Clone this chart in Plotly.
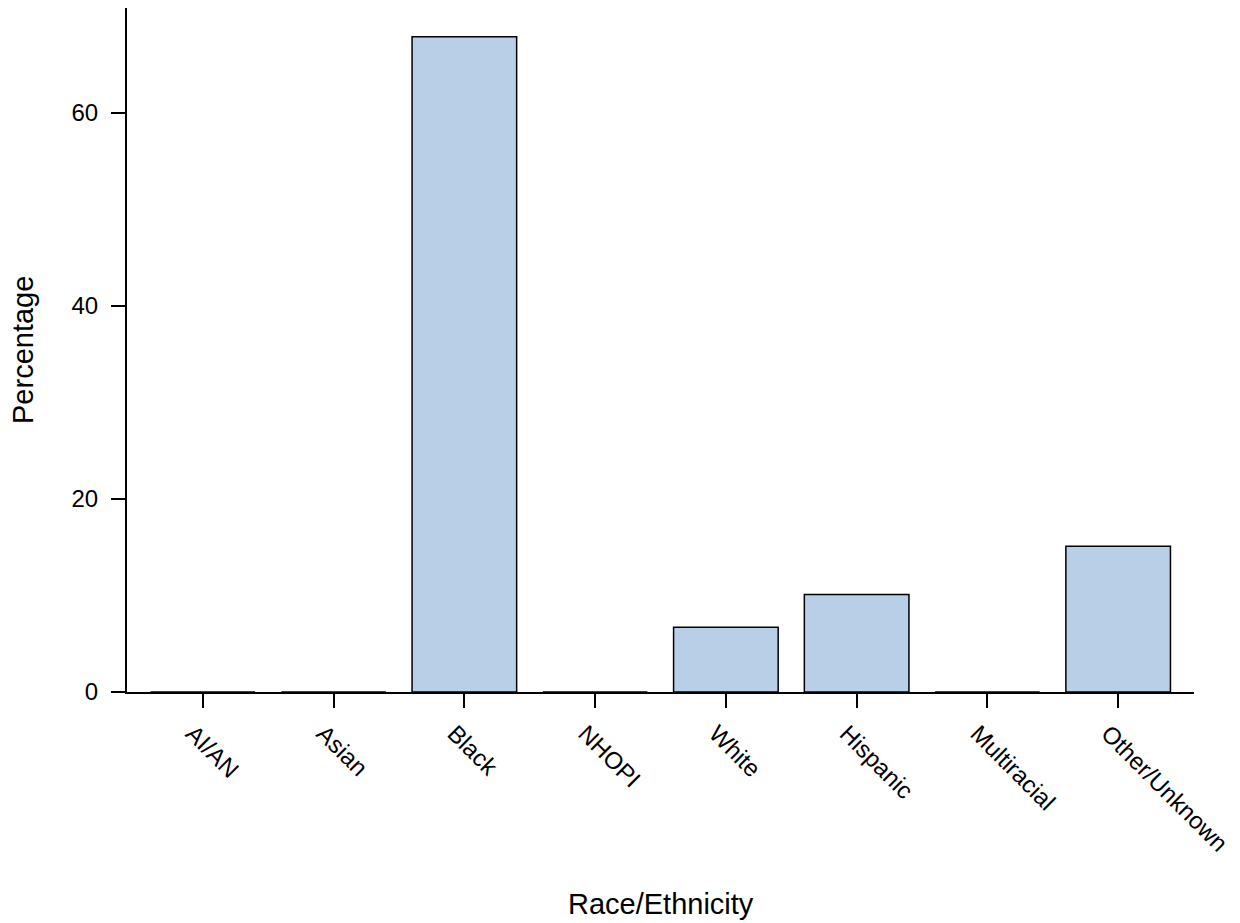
import plotly.graph_objects as go

categories = ["AI/AN", "Asian", "Black", "NHOPI", "White", "Hispanic", "Multiracial", "Other/Unknown"]
percentages = [0, 0, 67.9, 0, 6.7, 10.1, 0, 15.1]
y_ticks = [0, 20, 40, 60]

FAM = "Liberation Sans, Arial, sans-serif"
tick_font = dict(family=FAM, size=24, color="black")
title_font = dict(family=FAM, size=29, color="black")

# page body has an 8px default margin
OFF = 8
left_px, right_px, top_px, bottom_px = 127, 1194, 6, 692
W, H = 1240, 923
m_l = left_px - OFF
m_r = W - (right_px - OFF)
m_t = 0
m_b = H - (bottom_px - OFF)
plot_h = H - m_t - m_b
plot_w = W - m_l - m_r

fig = go.Figure()
fig.add_trace(go.Bar(
    x=list(range(len(categories))),
    y=percentages,
    width=0.8,
    marker=dict(color="#B8CFE7", line=dict(color="black", width=1.5)),
))

fig.update_layout(
    width=W, height=H,
    margin=dict(l=m_l, r=m_r, t=m_t, b=m_b, autoexpand=False),
    plot_bgcolor="white", paper_bgcolor="white",
    showlegend=False,
    font=tick_font,
    xaxis=dict(
        range=[-0.58, 7.58],
        tickmode="array",
        tickvals=list(range(len(categories))),
        ticktext=categories,
        tickangle=45,
        showline=True, linecolor="black", linewidth=2,
        ticks="outside", ticklen=14, tickwidth=1.5, tickcolor="black",
        showgrid=False, zeroline=False,
        tickfont=tick_font,
        ticklabelstandoff=2,
        ticklabelshift=-10,
    ),
    yaxis=dict(
        range=[0, (692 - 8) / 9.65],
        tickmode="array",
        tickvals=y_ticks,
        showline=True, linecolor="black", linewidth=2,
        ticks="outside", ticklen=14, tickwidth=1.5, tickcolor="black",
        showgrid=False, zeroline=False,
        tickfont=tick_font,
        ticklabelstandoff=8,
    ),
    annotations=[
        dict(text="Race/Ethnicity", x=0.5, xref="paper",
             y=(bottom_px - 904) / plot_h, yref="paper",
             xanchor="center", yanchor="middle", showarrow=False,
             font=title_font),
        dict(text="Percentage", x=(23 - left_px) / plot_w, xref="paper",
             y=0.5, yref="paper",
             xanchor="center", yanchor="middle", showarrow=False, textangle=-90,
             font=title_font),
    ],
)

fig.write_html("out.html")
